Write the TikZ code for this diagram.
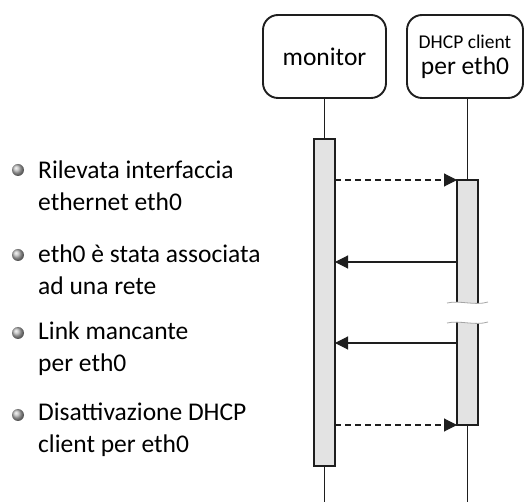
\documentclass[tikz,border=0pt]{standalone}
\usepackage{fontspec}
\setmainfont{Carlito}
\usetikzlibrary{arrows.meta}
\definecolor{barfill}{HTML}{E3E3E3}
\definecolor{ink}{HTML}{1E1E1E}
\begin{document}
\begin{tikzpicture}[x=1pt,y=-1pt,
  actor/.style={draw=ink,line width=1.9pt,rounded corners=15pt,minimum width=123pt,minimum height=83pt,align=center,inner sep=0pt},
  lifeline/.style={draw=ink,line width=1.3pt},
  actbar/.style={draw=ink,fill=barfill,line width=1.8pt},
  msg/.style={draw=ink,line width=1.1pt,-{Triangle[length=13pt,width=13pt]}},
  reply/.style={msg,dashed,dash pattern=on 6pt off 4pt},
  bullettext/.style={anchor=west,align=left,font=\fontsize{25.5}{32}\selectfont,inner sep=0pt},
  ball/.style={circle,inner sep=0pt,minimum size=12pt,ball color=gray!55}]
\useasboundingbox (0,0) rectangle (525,502);

% participants
\node[actor,font=\fontsize{25.5}{30}\selectfont] (mon) at (324.5,56.5) {monitor};
\node[actor,minimum width=116pt,font=\fontsize{25.5}{26}\selectfont] (dhcp) at (465,56.5)
  {{\fontsize{19.5}{22}\selectfont DHCP client}\\per eth0};

% lifelines
\coordinate (monend) at (324.5,502);
\coordinate (dhcpend) at (467.5,502);
\draw[lifeline] (mon.south) -- (monend);
\draw[lifeline] (mon.south -| dhcpend) -- (dhcpend);

% activation bars
\path[actbar] (314,139) rectangle (335,466);
\path[actbar] (457,180) rectangle (478,425);
\coordinate (mL1) at (335,180);
\coordinate (dR1) at (457,180);
\coordinate (mL2) at (335,262);
\coordinate (dR2) at (457,262);
\coordinate (mL3) at (335,343);
\coordinate (dR3) at (457,343);
\coordinate (mL4) at (335,425);
\coordinate (dR4) at (457,425);

% break in the client bar
\fill[white] (447,303) .. controls (460,300) and (475,306) .. (488,302)
  -- (488,322) .. controls (475,326) and (460,320) .. (447,323) -- cycle;
\draw[gray!70,line width=0.8pt] (447,303) .. controls (460,300) and (475,306) .. (488,302);
\draw[gray!70,line width=0.8pt] (447,323) .. controls (460,320) and (475,326) .. (488,322);

% messages
\draw[reply] (mL1) -- (dR1);
\draw[msg] (dR2) -- (mL2);
\draw[msg] (dR3) -- (mL3);
\draw[reply] (mL4) -- (dR4);

% event list
\node[ball] (b1) at (18,170) {};
\node[bullettext] (t1) at (38,186) {Rilevata interfaccia\\ethernet eth0};
\node[ball] (b2) at (18,255) {};
\node[bullettext] (t2) at (38,270) {eth0 è stata associata\\ad una rete};
\node[ball] (b3) at (18,333) {};
\node[bullettext] (t3) at (38,349) {Link mancante\\per eth0};
\node[ball] (b4) at (18,415) {};
\node[bullettext] (t4) at (38,430) {Disattivazione DHCP\\client per eth0};
\end{tikzpicture}
\end{document}
